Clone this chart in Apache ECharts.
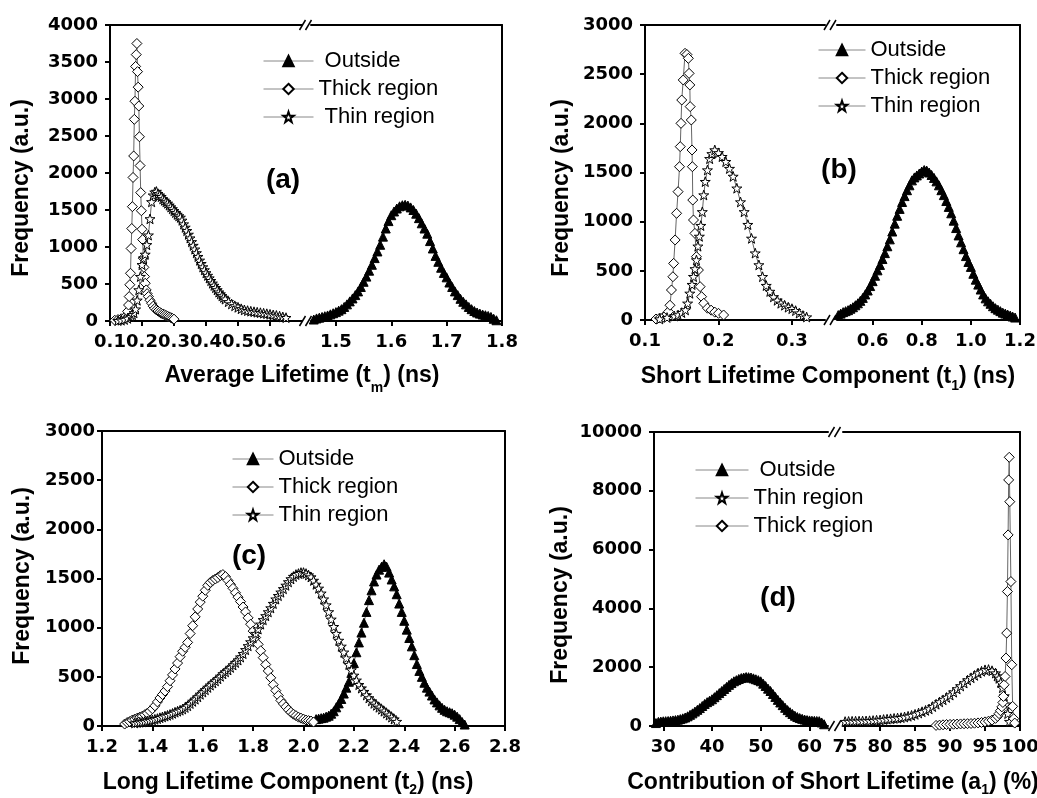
<!DOCTYPE html>
<html>
<head>
<meta charset="utf-8">
<title>Lifetime distributions</title>
<script src="https://cdn.jsdelivr.net/npm/echarts@6.0.0/dist/echarts.min.js"></script>
<style>
	html, body { margin: 0; padding: 0; background: #fff; }
	#chart { width: 1037px; height: 798px; }
</style>
</head>
<body>
<div id="chart"></div>
<script>
"use strict";

var LEGEND_ABC = ['Outside', 'Thick region', 'Thin region'];
var LEGEND_D = ['Outside', 'Thin region', 'Thick region'];
var PANEL_LABELS = ['(a)', '(b)', '(c)', '(d)'];
var FREQ_TITLE = 'Frequency (a.u.)';

// (a) average lifetime
var avgTicksLow = [0.1, 0.2, 0.3, 0.4, 0.5, 0.6];
var avgTicksHigh = [1.5, 1.6, 1.7, 1.8];
var avgOutside = [[1.46,20],[1.465,35],[1.47,45],[1.475,55],[1.48,65],[1.485,75],[1.49,90],[1.495,105],[1.5,120],[1.505,140],[1.51,160],[1.515,190],[1.52,225],[1.525,265],[1.53,305],[1.535,350],[1.54,400],[1.545,460],[1.55,530],[1.555,600],[1.56,680],[1.565,760],[1.57,850],[1.575,940],[1.58,1030],[1.585,1140],[1.59,1250],[1.595,1350],[1.6,1430],[1.605,1480],[1.61,1520],[1.615,1550],[1.62,1565],[1.625,1570],[1.63,1560],[1.635,1535],[1.64,1500],[1.645,1450],[1.65,1390],[1.655,1320],[1.66,1250],[1.665,1180],[1.67,1080],[1.675,980],[1.68,880],[1.685,800],[1.69,720],[1.695,650],[1.7,590],[1.705,520],[1.71,460],[1.715,400],[1.72,350],[1.725,300],[1.73,260],[1.735,225],[1.74,190],[1.745,160],[1.75,135],[1.755,115],[1.76,100],[1.765,88],[1.77,78],[1.775,68],[1.78,55],[1.785,30],[1.79,10]];
var avgThick = [[0.115,10],[0.125,20],[0.135,30],[0.145,45],[0.15,70],[0.155,130],[0.158,216],[0.16,330],[0.162,490],[0.164,645],[0.166,980],[0.168,1250],[0.17,1545],[0.172,1940],[0.174,2230],[0.176,2725],[0.178,2970],[0.18,3440],[0.182,3600],[0.184,3750],[0.186,3370],[0.188,3160],[0.19,2905],[0.192,2490],[0.194,2100],[0.196,1735],[0.198,1490],[0.2,1240],[0.202,1100],[0.204,850],[0.206,725],[0.208,600],[0.21,510],[0.213,420],[0.216,370],[0.22,330],[0.225,280],[0.23,240],[0.235,200],[0.24,170],[0.245,150],[0.25,135],[0.255,120],[0.26,105],[0.265,95],[0.27,85],[0.275,75],[0.28,65],[0.285,55],[0.29,45],[0.295,35],[0.3,25]];
var avgThin = [[0.125,5],[0.135,10],[0.145,20],[0.155,35],[0.165,60],[0.17,85],[0.175,110],[0.18,160],[0.185,280],[0.19,420],[0.195,600],[0.2,760],[0.205,850],[0.21,900],[0.215,1030],[0.22,1160],[0.225,1380],[0.23,1610],[0.235,1700],[0.24,1740],[0.245,1750],[0.25,1720],[0.255,1700],[0.26,1680],[0.265,1650],[0.27,1630],[0.275,1610],[0.28,1590],[0.285,1565],[0.29,1540],[0.295,1515],[0.3,1490],[0.305,1465],[0.31,1440],[0.315,1420],[0.32,1400],[0.325,1360],[0.33,1310],[0.335,1265],[0.34,1220],[0.345,1170],[0.35,1120],[0.355,1070],[0.36,1020],[0.365,970],[0.37,920],[0.375,870],[0.38,820],[0.385,775],[0.39,730],[0.395,690],[0.4,650],[0.405,615],[0.41,580],[0.415,545],[0.42,510],[0.425,480],[0.43,450],[0.435,420],[0.44,390],[0.445,365],[0.45,340],[0.455,318],[0.46,295],[0.47,260],[0.48,230],[0.49,205],[0.5,185],[0.51,165],[0.52,150],[0.53,140],[0.54,132],[0.55,125],[0.56,118],[0.57,112],[0.58,105],[0.59,98],[0.6,90],[0.61,82],[0.62,75],[0.63,65],[0.64,55],[0.65,45]];

// (b) short lifetime component
var shortTicksLow = [0.1, 0.2, 0.3];
var shortTicksHigh = [0.6, 0.8, 1.0, 1.2];
var shortOutside = [[0.46,50],[0.47,65],[0.48,80],[0.49,90],[0.5,100],[0.51,115],[0.52,130],[0.53,150],[0.54,170],[0.55,195],[0.56,225],[0.57,260],[0.58,300],[0.59,345],[0.6,395],[0.61,450],[0.62,505],[0.63,560],[0.64,620],[0.65,680],[0.66,750],[0.67,820],[0.68,900],[0.69,980],[0.7,1060],[0.71,1130],[0.72,1200],[0.73,1260],[0.74,1320],[0.75,1370],[0.76,1420],[0.77,1450],[0.78,1470],[0.79,1490],[0.8,1510],[0.81,1525],[0.82,1520],[0.83,1500],[0.84,1475],[0.85,1445],[0.86,1410],[0.87,1370],[0.88,1320],[0.89,1270],[0.9,1210],[0.91,1150],[0.92,1085],[0.93,1010],[0.94,935],[0.95,860],[0.96,790],[0.97,720],[0.98,650],[0.99,590],[1.0,540],[1.01,470],[1.02,410],[1.03,360],[1.04,310],[1.05,260],[1.06,220],[1.07,190],[1.08,165],[1.09,140],[1.1,120],[1.11,105],[1.12,90],[1.13,75],[1.14,65],[1.15,55],[1.16,45],[1.17,35],[1.18,25]];
var shortThick = [[0.115,10],[0.12,20],[0.125,30],[0.13,60],[0.132,85],[0.134,150],[0.136,305],[0.138,440],[0.139,576],[0.141,814],[0.143,1085],[0.145,1305],[0.147,1559],[0.148,1763],[0.149,2000],[0.15,2237],[0.152,2441],[0.1545,2712],[0.157,2700],[0.159,2661],[0.16,2508],[0.161,2390],[0.1615,2170],[0.163,2034],[0.164,1729],[0.1645,1559],[0.165,1220],[0.166,1017],[0.168,881],[0.17,644],[0.1727,508],[0.175,339],[0.177,237],[0.18,170],[0.185,120],[0.19,100],[0.195,80],[0.2,68],[0.207,51]];
var shortThin = [[0.12,10],[0.13,25],[0.14,40],[0.145,51],[0.15,75],[0.155,102],[0.158,170],[0.161,271],[0.164,360],[0.166,441],[0.168,520],[0.17,610],[0.172,750],[0.174,850],[0.176,960],[0.178,1100],[0.18,1271],[0.182,1407],[0.185,1525],[0.188,1640],[0.191,1690],[0.195,1729],[0.2,1700],[0.205,1661],[0.21,1610],[0.215,1540],[0.22,1460],[0.225,1340],[0.23,1200],[0.235,1100],[0.24,970],[0.245,830],[0.25,680],[0.255,560],[0.26,440],[0.265,350],[0.27,290],[0.275,235],[0.28,200],[0.285,170],[0.29,150],[0.295,130],[0.3,115],[0.305,95],[0.31,70],[0.315,45],[0.32,30]];

// (c) long lifetime component
var longTicks = [1.2, 1.4, 1.6, 1.8, 2.0, 2.2, 2.4, 2.6, 2.8];
var longOutside = [[2.05,70],[2.06,75],[2.07,80],[2.08,85],[2.09,95],[2.1,105],[2.11,125],[2.12,150],[2.13,190],[2.14,230],[2.15,275],[2.16,330],[2.17,390],[2.18,450],[2.19,540],[2.2,640],[2.21,750],[2.22,850],[2.23,950],[2.24,1050],[2.25,1160],[2.26,1280],[2.27,1380],[2.28,1470],[2.29,1540],[2.3,1590],[2.31,1620],[2.32,1645],[2.33,1620],[2.34,1560],[2.35,1490],[2.36,1420],[2.37,1340],[2.38,1245],[2.39,1160],[2.4,1070],[2.41,980],[2.42,895],[2.43,810],[2.44,720],[2.45,630],[2.46,560],[2.47,500],[2.48,440],[2.49,390],[2.5,350],[2.51,310],[2.52,270],[2.53,240],[2.54,210],[2.55,185],[2.56,165],[2.57,150],[2.58,140],[2.59,130],[2.6,115],[2.61,95],[2.62,70],[2.63,40],[2.64,15]];
var longThick = [[1.29,20],[1.3,35],[1.31,45],[1.32,60],[1.33,70],[1.34,80],[1.35,90],[1.36,100],[1.37,115],[1.38,130],[1.39,150],[1.4,175],[1.41,205],[1.42,245],[1.43,285],[1.44,320],[1.45,355],[1.46,400],[1.47,460],[1.48,520],[1.49,580],[1.5,640],[1.51,705],[1.52,760],[1.53,800],[1.54,850],[1.55,940],[1.56,1020],[1.57,1110],[1.58,1190],[1.59,1260],[1.6,1320],[1.61,1380],[1.62,1430],[1.63,1460],[1.64,1480],[1.65,1495],[1.66,1510],[1.67,1530],[1.68,1540],[1.69,1520],[1.7,1480],[1.71,1440],[1.72,1400],[1.73,1355],[1.74,1310],[1.75,1265],[1.76,1210],[1.77,1160],[1.78,1100],[1.79,1035],[1.8,965],[1.81,900],[1.82,830],[1.83,765],[1.84,695],[1.85,625],[1.86,560],[1.87,490],[1.88,420],[1.89,360],[1.9,310],[1.91,260],[1.92,225],[1.93,195],[1.94,165],[1.95,140],[1.96,120],[1.97,105],[1.98,90],[1.99,80],[2.0,70],[2.01,60],[2.02,55],[2.03,50],[2.04,40]];
var longThin = [[1.33,30],[1.34,35],[1.35,38],[1.36,42],[1.37,46],[1.38,51],[1.39,56],[1.4,62],[1.41,68],[1.42,75],[1.43,84],[1.44,92],[1.45,100],[1.46,108],[1.47,117],[1.48,128],[1.49,140],[1.5,150],[1.51,160],[1.52,172],[1.53,188],[1.54,205],[1.55,228],[1.56,250],[1.57,272],[1.58,296],[1.59,322],[1.6,345],[1.61,368],[1.62,392],[1.63,415],[1.64,437],[1.65,458],[1.66,480],[1.67,505],[1.68,530],[1.69,550],[1.7,570],[1.71,595],[1.72,620],[1.73,645],[1.74,670],[1.75,700],[1.76,735],[1.77,775],[1.78,815],[1.79,855],[1.8,895],[1.81,940],[1.82,985],[1.83,1035],[1.84,1080],[1.85,1120],[1.86,1160],[1.87,1200],[1.88,1245],[1.89,1290],[1.9,1325],[1.91,1360],[1.92,1395],[1.93,1430],[1.94,1465],[1.95,1495],[1.96,1520],[1.97,1540],[1.98,1550],[1.99,1560],[2.0,1560],[2.01,1550],[2.02,1535],[2.03,1515],[2.04,1480],[2.05,1440],[2.06,1400],[2.07,1350],[2.08,1290],[2.09,1230],[2.1,1160],[2.11,1085],[2.12,1010],[2.13,940],[2.14,870],[2.15,810],[2.16,750],[2.17,690],[2.18,625],[2.19,570],[2.2,515],[2.21,465],[2.22,420],[2.23,385],[2.24,350],[2.25,315],[2.26,285],[2.27,255],[2.28,230],[2.29,210],[2.3,190],[2.31,170],[2.32,150],[2.33,130],[2.34,110],[2.35,90],[2.36,70],[2.37,45]];

// (d) contribution of short lifetime
var contribTicksLow = [30, 40, 50, 60];
var contribTicksHigh = [75, 80, 85, 90, 95, 100];
var contribOutside = [[28.5,100],[29,140],[29.5,150],[30,160],[30.5,165],[31,170],[31.5,180],[32,190],[32.5,200],[33,215],[33.5,235],[34,260],[34.5,290],[35,330],[35.5,380],[36,430],[36.5,490],[37,550],[37.5,610],[38,680],[38.5,750],[39,810],[39.5,860],[40,910],[40.5,980],[41,1050],[41.5,1120],[42,1190],[42.5,1260],[43,1330],[43.5,1400],[44,1460],[44.5,1520],[45,1560],[45.5,1600],[46,1630],[46.5,1650],[47,1665],[47.5,1660],[48,1650],[48.5,1620],[49,1590],[49.5,1560],[50,1520],[50.5,1440],[51,1360],[51.5,1270],[52,1190],[52.5,1090],[53,990],[53.5,890],[54,800],[54.5,710],[55,620],[55.5,540],[56,470],[56.5,410],[57,350],[57.5,305],[58,270],[58.5,245],[59,220],[59.5,200],[60,190],[60.5,180],[61,175],[61.5,170],[62,165],[62.5,120],[63,60]];
var contribThin = [[75,150],[75.5,155],[76,160],[76.5,162],[77,165],[77.5,168],[78,172],[78.5,178],[79,185],[79.5,195],[80,205],[80.5,220],[81,232],[81.5,245],[82,258],[82.5,270],[83,283],[83.5,305],[84,330],[84.5,360],[85,396],[85.5,440],[86,485],[86.5,530],[87,580],[87.5,660],[88,740],[88.5,820],[89,890],[89.5,970],[90,1050],[90.5,1150],[91,1260],[91.5,1360],[92,1460],[92.5,1560],[93,1640],[93.5,1720],[94,1800],[94.5,1860],[95,1910],[95.5,1920],[96,1880],[96.5,1800],[96.75,1700],[97,1620],[97.25,1480],[97.5,1300],[97.75,1020],[98,740],[98.25,420],[98.5,150]];
var contribThick = [[88,20],[88.5,30],[89,40],[89.5,50],[90,55],[90.5,60],[91,65],[91.5,70],[92,75],[92.5,80],[93,85],[93.5,95],[94,105],[94.5,120],[95,140],[95.5,165],[96,200],[96.5,260],[96.8,330],[97,420],[97.2,520],[97.4,650],[97.55,800],[97.63,1006],[97.73,1403],[97.87,1685],[98.0,2311],[98.1,3160],[98.2,4574],[98.3,6500],[98.38,8370],[98.46,9140],[98.54,7630],[98.7,4913],[98.82,2083],[98.95,666],[99.1,250],[99.25,100]];

var STAR = 'path://M10,0 L12.4,7.1 L19.5,7.1 L13.8,11.5 L15.9,18.6 L10,14.3 L4.1,18.6 L6.2,11.5 L0.5,7.1 L7.6,7.1 Z';
var MARKS = {
	'Outside': { symbol: 'triangle', size: 9, fill: '#000' },
	'Thick region': { symbol: 'diamond', size: 10, fill: '#fff' },
	'Thin region': { symbol: STAR, size: 10, fill: '#fff' }
};

var TICK_FONT = { color: '#000', fontFamily: 'DejaVu Sans', fontWeight: 'bold', fontSize: 18 };
var TEXT_FONT = 'Liberation Sans';
var BLACK_LINE = { color: '#000', width: 2 };

var grids = [], xAxes = [], yAxes = [], series = [], legends = [], graphics = [];

function labelStyle(extra) {
	var out = {};
	var key;
	for (key in TICK_FONT) out[key] = TICK_FONT[key];
	for (key in extra) out[key] = extra[key];
	return out;
}

// box = [left, top, right, bottom] in px; side = 'left' | 'right' | 'both'
function addGrid(box, range, ticks, digits, yMax, yStep, side, yMargin) {
	var gi = grids.length;
	grids.push({ left: box[0], top: box[1], width: box[2] - box[0], height: box[3] - box[1], containLabel: false, outerBoundsMode: 'none' });

	xAxes.push({
		type: 'value', gridIndex: gi, position: 'bottom', min: range[0], max: range[1],
		axisLine: { show: true, onZero: false, lineStyle: BLACK_LINE },
		axisTick: { show: true, customValues: ticks, length: 5, lineStyle: BLACK_LINE },
		axisLabel: labelStyle({ show: true, customValues: ticks, margin: 12, formatter: function(v) { return v.toFixed(digits); } }),
		splitLine: { show: false }
	});
	xAxes.push({
		type: 'value', gridIndex: gi, position: 'top', min: range[0], max: range[1],
		axisLine: { show: true, onZero: false, lineStyle: BLACK_LINE },
		axisTick: { show: false }, axisLabel: { show: false }, splitLine: { show: false }
	});

	var yi = yAxes.length;
	var labelled = side !== 'right';
	yAxes.push({
		type: 'value', gridIndex: gi, position: labelled ? 'left' : 'right', min: 0, max: yMax, interval: yStep,
		axisLine: { show: true, onZero: false, lineStyle: BLACK_LINE },
		axisTick: { show: labelled, length: 5, lineStyle: BLACK_LINE },
		axisLabel: labelStyle({ show: labelled, margin: yMargin, formatter: function(v) { return String(v); } }),
		splitLine: { show: false }
	});
	if (side === 'both') {
		yAxes.push({
			type: 'value', gridIndex: gi, position: 'right', min: 0, max: yMax, interval: yStep,
			axisLine: { show: true, onZero: false, lineStyle: BLACK_LINE },
			axisTick: { show: false }, axisLabel: { show: false }, splitLine: { show: false }
		});
	}
	return { x: gi * 2, y: yi };
}

function addSeries(name, data, axes) {
	var m = MARKS[name];
	series.push({
		name: name, type: 'line', data: data,
		xAxisIndex: axes.x, yAxisIndex: axes.y,
		symbol: m.symbol, symbolSize: m.size, symbolKeepAspect: true, showSymbol: true,
		lineStyle: { color: '#666', width: 1 },
		itemStyle: { color: m.fill, borderColor: '#000', borderWidth: 1, opacity: 1 },
		emphasis: { disabled: true },
		clip: true
	});
}

function addLegend(names, left, top, width, padded) {
	legends.push({
		data: names, orient: 'vertical', left: left, top: top, padding: 0,
		itemWidth: width, itemHeight: 13, itemGap: 6, selectedMode: false,
		lineStyle: { color: '#888', width: 1 },
		textStyle: { color: '#000', fontFamily: TEXT_FONT, fontSize: 22 },
		formatter: function(n) { return padded.indexOf(n) >= 0 ? ' ' + n : n; }
	});
}

function addBreak(cx, yTop, yBottom) {
	[yTop, yBottom].forEach(function(y) {
		[-7, -1].forEach(function(dx) {
			graphics.push({ type: 'line', shape: { x1: cx + dx, y1: y + 5, x2: cx + dx + 6, y2: y - 5 }, style: { stroke: '#000', lineWidth: 1.5 }, z: 100 });
		});
	});
}

function addXTitle(cx, cy, head, sub, tail, drop) {
	var h = 2 * (drop + 5);
	graphics.push({
		type: 'text', x: cx, y: cy, z: 100,
		style: {
			text: '{m|' + head + '}{s|' + sub + '}{m|' + tail + '}',
			align: 'center', verticalAlign: 'middle', fill: '#000',
			rich: {
				m: { fontFamily: TEXT_FONT, fontWeight: 'bold', fontSize: 23, lineHeight: h, fill: '#000' },
				s: { fontFamily: TEXT_FONT, fontWeight: 'bold', fontSize: 14, lineHeight: 10, verticalAlign: 'bottom', fill: '#000' }
			}
		}
	});
}

function addYTitle(cx, cy) {
	graphics.push({
		type: 'text', x: cx, y: cy, rotation: Math.PI / 2, z: 100,
		style: { text: FREQ_TITLE, align: 'center', verticalAlign: 'middle', fill: '#000', font: 'bold 23px "' + TEXT_FONT + '"' }
	});
}

function addPanelLabel(cx, cy, text) {
	graphics.push({
		type: 'text', x: cx, y: cy, z: 100,
		style: { text: text, align: 'center', verticalAlign: 'middle', fill: '#000', font: 'bold 28px "' + TEXT_FONT + '"' }
	});
}

// panel (a)
var a1 = addGrid([110, 25, 302, 321], [0.1, 0.7], avgTicksLow, 1, 4000, 500, 'left', 12);
var a2 = addGrid([311, 25, 502, 321], [1.455, 1.8], avgTicksHigh, 1, 4000, 500, 'right', 12);
addSeries('Outside', avgOutside, a2);
addSeries('Thick region', avgThick, a1);
addSeries('Thin region', avgThin, a1);
addLegend(LEGEND_ABC, 263, 50, 50, ['Outside', 'Thin region']);
addBreak(306.5, 25, 321);
addXTitle(302, 376, 'Average Lifetime (t', 'm', ') (ns)', 14);
addYTitle(22, 188);
addPanelLabel(283, 180, PANEL_LABELS[0]);

// panel (b)
var b1 = addGrid([645, 25, 825, 320], [0.1, 0.345], shortTicksLow, 1, 3000, 500, 'left', 12);
var b2 = addGrid([837, 25, 1020, 320], [0.455, 1.2], shortTicksHigh, 1, 3000, 500, 'right', 12);
addSeries('Outside', shortOutside, b2);
addSeries('Thick region', shortThick, b1);
addSeries('Thin region', shortThin, b1);
addLegend(LEGEND_ABC, 818, 39, 47, []);
addBreak(831, 25, 320);
addXTitle(828, 377, 'Short Lifetime Component (t', '1', ') (ns)', 11);
addYTitle(562, 188);
addPanelLabel(839, 170, PANEL_LABELS[1]);

// panel (c)
var c1 = addGrid([102, 431, 505, 726], [1.2, 2.8], longTicks, 1, 3000, 500, 'both', 7);
addSeries('Outside', longOutside, c1);
addSeries('Thick region', longThick, c1);
addSeries('Thin region', longThin, c1);
addLegend(LEGEND_ABC, 232, 448, 41, []);
addXTitle(288, 783, 'Long Lifetime Component (t', '2', ') (ns)', 9);
addYTitle(23, 576);
addPanelLabel(249, 556, PANEL_LABELS[2]);

// panel (d)
var d1 = addGrid([654, 432, 828, 726], [28.1, 63.8], contribTicksLow, 0, 10000, 2000, 'left', 12);
var d2 = addGrid([843, 432, 1020, 726], [74.7, 100], contribTicksHigh, 0, 10000, 2000, 'right', 12);
addSeries('Outside', contribOutside, d1);
addSeries('Thin region', contribThin, d2);
addSeries('Thick region', contribThick, d2);
addLegend(LEGEND_D, 695, 459, 53, ['Outside']);
addBreak(835.5, 432, 726);
addXTitle(833, 783, 'Contribution of Short Lifetime (a', '1', ') (%)', 9);
addYTitle(561, 595);
addPanelLabel(778, 598, PANEL_LABELS[3]);

var chart = echarts.init(document.getElementById('chart'), null, { renderer: 'canvas' });
chart.setOption({
	animation: false,
	backgroundColor: '#fff',
	grid: grids,
	xAxis: xAxes,
	yAxis: yAxes,
	legend: legends,
	series: series,
	graphic: { elements: graphics }
});
</script>
</body>
</html>
